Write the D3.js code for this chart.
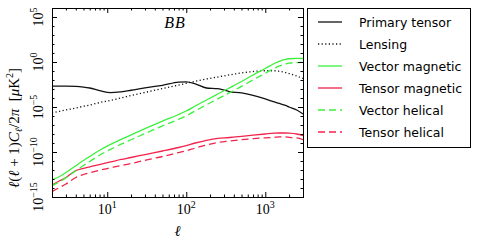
<!DOCTYPE html>
<html>
<head>
<meta charset="utf-8">
<script src="https://cdnjs.cloudflare.com/ajax/libs/d3/7.8.5/d3.min.js"></script>
<style>
  body { margin: 0; background: #fff; }
  svg { display: block; }
</style>
</head>
<body>
<script>
// multipole grid, shared by all curves
var ell = [2, 2.5, 3, 4, 5, 6, 8, 11, 15, 20, 30, 50, 80, 100, 130, 180, 250, 350, 500, 700, 1000, 1300, 1500, 1800, 2000, 2500, 3000];

// log10 of l(l+1)C_l/2pi in muK^2
var primaryTensor   = [-2.67, -2.67, -2.67, -2.7, -2.78, -2.89, -3.17, -3.41, -3.31, -3.14, -2.87, -2.59, -2.24, -2.2, -2.42, -2.89, -2.96, -3.28, -3.44, -3.72, -4.11, -4.44, -4.61, -4.83, -5.0, -5.33, -5.78];
var lensing         = [-5.67, -5.48, -5.33, -5.11, -4.92, -4.78, -4.51, -4.26, -3.99, -3.72, -3.38, -2.96, -2.56, -2.37, -2.14, -1.89, -1.67, -1.44, -1.22, -1.06, -0.97, -0.97, -1.03, -1.17, -1.28, -1.56, -1.83];
var vectorMagnetic  = [-13.1, -12.72, -12.28, -11.53, -10.94, -10.5, -9.81, -9.15, -8.6, -8.1, -7.4, -6.56, -5.83, -5.44, -4.89, -4.22, -3.56, -2.89, -2.17, -1.44, -0.72, -0.17, 0.06, 0.28, 0.36, 0.41, 0.39];
var tensorMagnetic  = [-13.67, -13.2, -12.83, -12.06, -11.81, -11.64, -11.39, -11.11, -10.83, -10.61, -10.28, -9.89, -9.5, -9.28, -9.0, -8.7, -8.48, -8.39, -8.26, -8.13, -8.0, -7.91, -7.89, -7.89, -7.91, -8.0, -8.17];
var vectorHelical   = [-13.75, -13.3, -12.85, -12.08, -11.5, -11.05, -10.36, -9.7, -9.13, -8.64, -7.95, -7.1, -6.37, -5.98, -5.43, -4.76, -4.1, -3.43, -2.71, -1.98, -1.25, -0.7, -0.46, -0.22, -0.12, -0.06, -0.05];
var tensorHelical   = [-14.39, -13.94, -13.56, -12.83, -12.5, -12.3, -12.03, -11.76, -11.5, -11.28, -10.92, -10.5, -10.06, -9.86, -9.56, -9.22, -8.94, -8.78, -8.63, -8.52, -8.42, -8.37, -8.33, -8.33, -8.37, -8.44, -8.64];

var seriesNames = ["Primary tensor", "Lensing", "Vector magnetic", "Tensor magnetic", "Vector helical", "Tensor helical"];
var xMajor = [10, 100, 1000];
var yMajor = [-15, -10, -5, 0, 5];

var w = 479, h = 245;
var pLeft = 52, pRight = 303, pTop = 8, pBottom = 197;

var svg = d3.select("body").append("svg")
  .attr("width", w)
  .attr("height", h);

var x = d3.scaleLog().domain([2, 3000]).range([pLeft, pRight]);
var y = d3.scaleLog().domain([1e-15, 1e6]).range([pBottom, pTop]);

var green = "#3bf03b", red = "#f2234b";
var styles = [
  {color: "#111", dash: null},
  {color: "#111", dash: "1.2,2.4"},
  {color: green, dash: null},
  {color: red, dash: null},
  {color: green, dash: "7,4"},
  {color: red, dash: "7,4"}
];
var allSeries = [primaryTensor, lensing, vectorMagnetic, tensorMagnetic, vectorHelical, tensorHelical];

// clip the curves to the axes box
svg.append("clipPath").attr("id", "plotclip")
  .append("rect")
  .attr("x", pLeft).attr("y", pTop)
  .attr("width", pRight - pLeft).attr("height", pBottom - pTop);

var line = d3.line()
  .x(function(d) { return x(d[0]); })
  .y(function(d) { return y(d[1]); })
  .curve(d3.curveMonotoneX);

var curves = svg.append("g").attr("clip-path", "url(#plotclip)");
allSeries.forEach(function(s, i) {
  var pts = ell.map(function(l, j) { return [l, Math.pow(10, s[j])]; });
  curves.append("path")
    .datum(pts)
    .attr("d", line)
    .attr("fill", "none")
    .attr("stroke", styles[i].color)
    .attr("stroke-width", 1.3)
    .attr("stroke-dasharray", styles[i].dash);
});

// ticks on all four sides, pointing inwards
var xMinor = [];
[1, 10, 100, 1000].forEach(function(d) {
  for (var k = 2; k <= 9; k++) {
    var v = k * d;
    if (v >= 2 && v <= 3000) xMinor.push(v);
  }
});
var yMinor = [];
for (var e = -15; e <= 6; e++) {
  if (yMajor.indexOf(e) < 0) yMinor.push(Math.pow(10, e));
}
var yMajorVals = yMajor.map(function(e) { return Math.pow(10, e); });

function ticks(axisFn, scale, vals, size, tr) {
  svg.append("g")
    .attr("transform", tr)
    .call(axisFn(scale).tickValues(vals).tickSize(size).tickFormat(""))
    .call(function(g) { g.select(".domain").remove(); });
}
ticks(d3.axisBottom, x, xMajor, -5, "translate(0," + pBottom + ")");
ticks(d3.axisBottom, x, xMinor, -2.5, "translate(0," + pBottom + ")");
ticks(d3.axisTop, x, xMajor, -5, "translate(0," + pTop + ")");
ticks(d3.axisTop, x, xMinor, -2.5, "translate(0," + pTop + ")");
ticks(d3.axisLeft, y, yMajorVals, -5, "translate(" + pLeft + ",0)");
ticks(d3.axisLeft, y, yMinor, -2.5, "translate(" + pLeft + ",0)");
ticks(d3.axisRight, y, yMajorVals, -5, "translate(" + pRight + ",0)");
ticks(d3.axisRight, y, yMinor, -2.5, "translate(" + pRight + ",0)");

// frame
svg.append("rect")
  .attr("x", pLeft + 0.5).attr("y", pTop + 0.5)
  .attr("width", pRight - pLeft).attr("height", pBottom - pTop)
  .attr("fill", "none")
  .attr("stroke", "#000")
  .attr("stroke-width", 1);

var serif = "'Liberation Serif', 'DejaVu Serif', serif";

// x tick labels 10^n
xMajor.forEach(function(v) {
  var t = svg.append("text")
    .attr("x", x(v)).attr("y", 214)
    .attr("text-anchor", "middle")
    .style("font-family", serif)
    .style("font-size", "14px")
    .text("10");
  t.append("tspan")
    .attr("dy", -6)
    .style("font-size", "10px")
    .text(Math.round(Math.log10(v)));
});

// y tick labels, rotated
yMajor.forEach(function(e) {
  var t = svg.append("text")
    .attr("transform", "translate(43," + y(Math.pow(10, e)) + ") rotate(-90)")
    .attr("text-anchor", "middle")
    .style("font-family", serif)
    .style("font-size", "14px")
    .text("10");
  t.append("tspan")
    .attr("dy", -6)
    .style("font-size", "10px")
    .text(String(e).replace("-", "\u2212"));
});

// x label
svg.append("text")
  .attr("x", (pLeft + pRight) / 2).attr("y", 236)
  .attr("text-anchor", "middle")
  .style("font-family", serif)
  .style("font-style", "italic")
  .style("font-size", "15px")
  .text("\u2113");

// y label
var yl = svg.append("text")
  .attr("transform", "translate(19,128) rotate(-90)")
  .attr("text-anchor", "middle")
  .style("font-family", serif)
  .style("font-size", "15px");
yl.append("tspan").style("font-style", "italic").text("\u2113");
yl.append("tspan").text("(");
yl.append("tspan").style("font-style", "italic").text("\u2113");
yl.append("tspan").text(" + 1)");
yl.append("tspan").style("font-style", "italic").text("C");
yl.append("tspan").style("font-style", "italic").style("font-size", "10px").attr("dy", 3).text("\u2113");
yl.append("tspan").attr("dy", -3).text("/2");
yl.append("tspan").style("font-style", "italic").text("\u03c0");
yl.append("tspan").text("\u00a0\u00a0[");
yl.append("tspan").style("font-style", "italic").text("\u03bc");
yl.append("tspan").text("K");
yl.append("tspan").style("font-size", "10px").attr("dy", -6).text("2");
yl.append("tspan").attr("dy", 6).text("]");

// panel title
svg.append("text")
  .attr("x", 175).attr("y", 28)
  .attr("text-anchor", "middle")
  .style("font-family", serif)
  .style("font-style", "italic")
  .style("font-size", "16px")
  .style("letter-spacing", "1px")
  .text("BB");

// legend
var lg = svg.append("g");
lg.append("rect")
  .attr("x", 307.5).attr("y", 8.5)
  .attr("width", 163).attr("height", 139)
  .attr("fill", "#fff")
  .attr("stroke", "#000")
  .attr("stroke-width", 1);
seriesNames.forEach(function(name, i) {
  var ly = 22 + i * 22;
  lg.append("line")
    .attr("x1", 318).attr("x2", 342)
    .attr("y1", ly).attr("y2", ly)
    .attr("stroke", styles[i].color)
    .attr("stroke-width", 1.3)
    .attr("stroke-dasharray", styles[i].dash);
  lg.append("text")
    .attr("x", 359).attr("y", ly + 4.5)
    .style("font-family", "'DejaVu Sans', sans-serif")
    .style("font-size", "12.5px")
    .text(name);
});
</script>
</body>
</html>
